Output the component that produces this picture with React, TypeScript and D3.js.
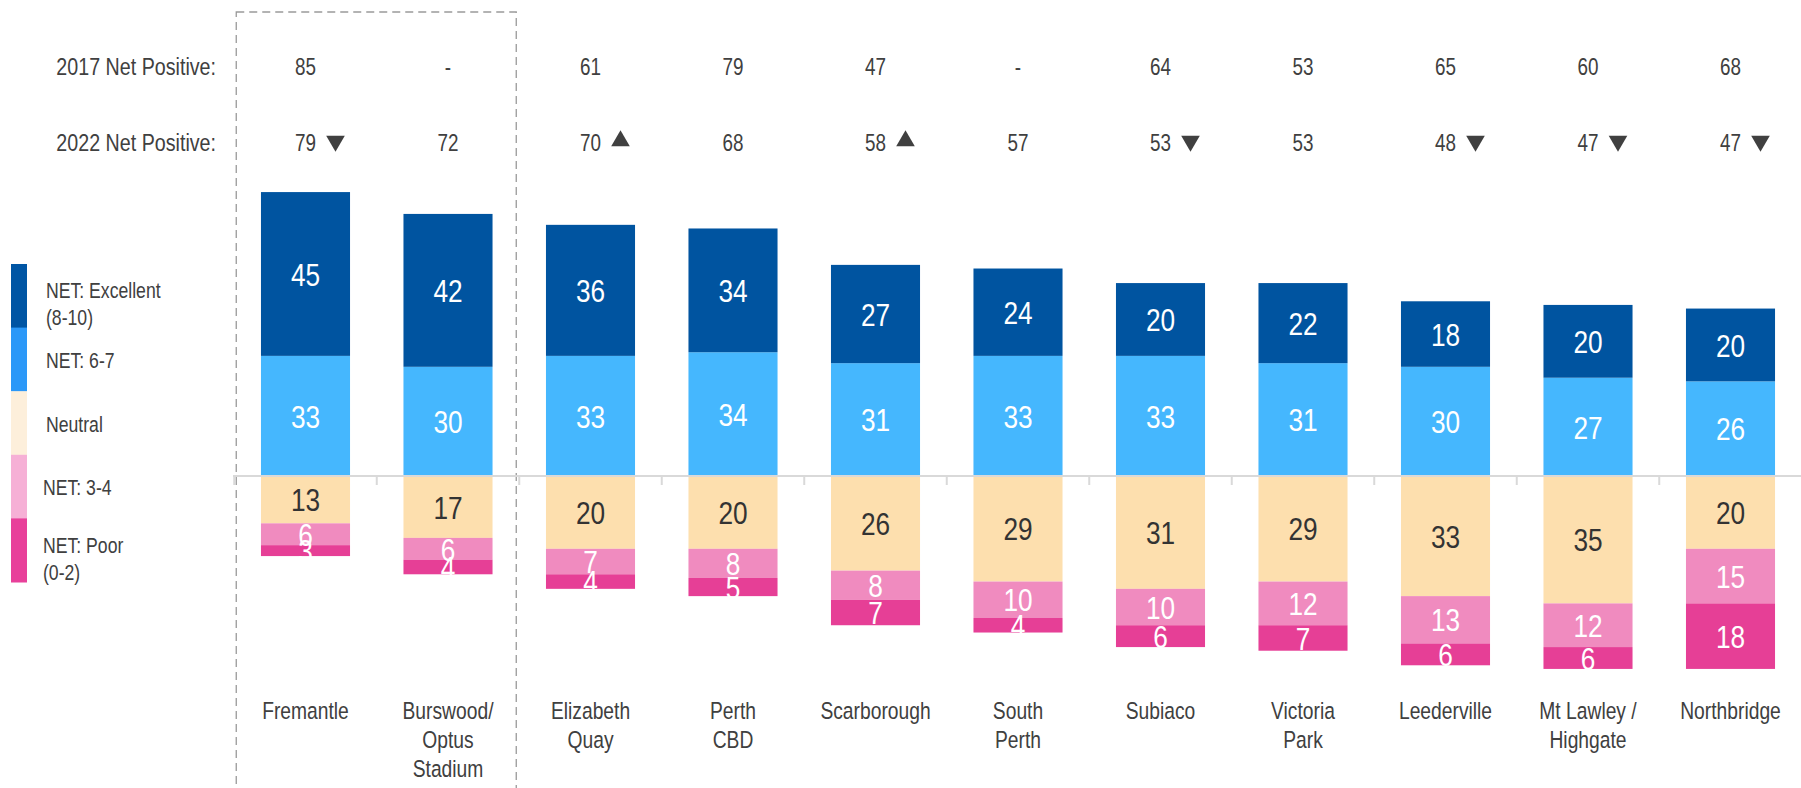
import { useEffect, useRef } from 'react'
import * as d3 from 'd3'

// categories and values
const CATEGORIES = [
  'Fremantle',
  'Burswood/ Optus Stadium',
  'Elizabeth Quay',
  'Perth CBD',
  'Scarborough',
  'South Perth',
  'Subiaco',
  'Victoria Park',
  'Leederville',
  'Mt Lawley / Highgate',
  'Northbridge',
]
const LABEL_LINES = [
  ['Fremantle'],
  ['Burswood/', 'Optus', 'Stadium'],
  ['Elizabeth', 'Quay'],
  ['Perth', 'CBD'],
  ['Scarborough'],
  ['South', 'Perth'],
  ['Subiaco'],
  ['Victoria', 'Park'],
  ['Leederville'],
  ['Mt Lawley /', 'Highgate'],
  ['Northbridge'],
]

const EXCELLENT = [45, 42, 36, 34, 27, 24, 20, 22, 18, 20, 20]
const GOOD = [33, 30, 33, 34, 31, 33, 33, 31, 30, 27, 26]
const NEUTRAL = [13, 17, 20, 20, 26, 29, 31, 29, 33, 35, 20]
const FAIR = [6, 6, 7, 8, 8, 10, 10, 12, 13, 12, 15]
const POOR = [3, 4, 4, 5, 7, 4, 6, 7, 6, 6, 18]

const NET_2017 = ['85', '-', '61', '79', '47', '-', '64', '53', '65', '60', '68']
const NET_2022 = ['79', '72', '70', '68', '58', '57', '53', '53', '48', '47', '47']
const TREND = ['down', '', 'up', '', 'up', '', 'down', '', 'down', 'down', 'down']

const LEGEND = [
  { lines: ['NET: Excellent', '(8-10)'], color: '#0055A4' },
  { lines: ['NET: 6-7'], color: '#2B98F8' },
  { lines: ['Neutral'], color: '#FDEFDB' },
  { lines: ['NET: 3-4'], color: '#F6B0D6' },
  { lines: ['NET: Poor', '(0-2)'], color: '#E8409A' },
]

const BAR_COLORS = {
  excellent: '#0054A0',
  good: '#45B7FE',
  neutral: '#FDDFAE',
  fair: '#F08BBF',
  poor: '#E63F96',
}

// no Arial Narrow here, so squeeze Liberation Sans horizontally
const FONT = '"Liberation Sans", Arial, sans-serif'
const NARROW = 0.82
const TEXT = '#404040'

const W = 1801
const H = 788

type Sel = d3.Selection<any, any, any, any>

// narrow text, one or more lines, anchored at (x, y)
function narrowText(
  parent: Sel,
  x: number,
  y: number,
  lines: string[],
  opts: { size: number; anchor?: string; fill?: string; lineHeight?: number }
) {
  const g = parent.append('g').attr('transform', `translate(${x},${y}) scale(${NARROW},1)`)
  const t = g
    .append('text')
    .attr('text-anchor', opts.anchor || 'middle')
    .attr('font-family', FONT)
    .attr('font-size', opts.size)
    .attr('fill', opts.fill || TEXT)
  lines.forEach((line, j) => {
    t.append('tspan')
      .attr('x', 0)
      .attr('dy', j === 0 ? '0.35em' : opts.lineHeight || 28)
      .text(line)
  })
  return g
}

function App() {
  const svgRef = useRef<SVGSVGElement>(null)

  useEffect(() => {
    if (!svgRef.current) return
    const svg = d3.select(svgRef.current)
    svg.selectAll('*').remove()

    const x = d3
      .scaleBand()
      .domain(CATEGORIES)
      .range([234.25, 1801.75])
      .paddingInner(0.375)
      .paddingOuter(0.1875)
    const step = x.step()
    const cx = (c: string) => (x(c) as number) + x.bandwidth() / 2

    const y = d3.scaleLinear().domain([-55, 80]).range([676.2, 184.8])

    // dashed highlight box round the first two columns
    const boxLeft = (x(CATEGORIES[0]) as number) - step * 0.1875 + 2
    const boxRight = (x(CATEGORIES[1]) as number) + x.bandwidth() + step * 0.1875 - 3
    svg
      .append('rect')
      .attr('x', boxLeft)
      .attr('y', 12)
      .attr('width', boxRight - boxLeft)
      .attr('height', H + 20)
      .attr('fill', 'none')
      .attr('stroke', '#9a9a9a')
      .attr('stroke-width', 1.3)
      .attr('stroke-dasharray', '8,5')

    // header rows
    const rows = [
      { label: '2017 Net Positive:', values: NET_2017, y: 67 },
      { label: '2022 Net Positive:', values: NET_2022, y: 143 },
    ]
    rows.forEach(row => {
      narrowText(svg, 216, row.y, [row.label], { size: 24, anchor: 'end' })
      CATEGORIES.forEach((c, i) => {
        narrowText(svg, cx(c), row.y, [row.values[i]], { size: 23 })
      })
    })

    // trend arrows
    const tri = d3.symbol(d3.symbolTriangle).size(150)
    svg
      .selectAll('path.trend')
      .data(CATEGORIES.filter((c, i) => TREND[i]))
      .enter()
      .append('path')
      .attr('class', 'trend')
      .attr('d', tri)
      .attr('fill', TEXT)
      .attr('transform', d => {
        const i = CATEGORIES.indexOf(d)
        const rot = TREND[i] === 'down' ? 180 : 0
        return `translate(${cx(d) + 30},${141}) rotate(${rot})`
      })

    // stacked segments
    const segments: { cat: string; key: string; y0: number; y1: number; v: number }[] = []
    CATEGORIES.forEach((c, i) => {
      segments.push({ cat: c, key: 'good', y0: 0, y1: GOOD[i], v: GOOD[i] })
      segments.push({ cat: c, key: 'excellent', y0: GOOD[i], y1: GOOD[i] + EXCELLENT[i], v: EXCELLENT[i] })
      segments.push({ cat: c, key: 'neutral', y0: 0, y1: -NEUTRAL[i], v: NEUTRAL[i] })
      segments.push({ cat: c, key: 'fair', y0: -NEUTRAL[i], y1: -NEUTRAL[i] - FAIR[i], v: FAIR[i] })
      segments.push({
        cat: c,
        key: 'poor',
        y0: -NEUTRAL[i] - FAIR[i],
        y1: -NEUTRAL[i] - FAIR[i] - POOR[i],
        v: POOR[i],
      })
    })

    svg
      .selectAll('rect.seg')
      .data(segments)
      .enter()
      .append('rect')
      .attr('class', 'seg')
      .attr('x', d => x(d.cat) as number)
      .attr('width', x.bandwidth())
      .attr('y', d => Math.min(y(d.y0), y(d.y1)))
      .attr('height', d => Math.abs(y(d.y0) - y(d.y1)))
      .attr('fill', d => BAR_COLORS[d.key as keyof typeof BAR_COLORS])

    // zero line with ticks between columns
    const axis = svg.append('g')
    axis
      .append('line')
      .attr('x1', 233)
      .attr('x2', W)
      .attr('y1', y(0))
      .attr('y2', y(0))
      .attr('stroke', '#d9d9d9')
      .attr('stroke-width', 2)
    const tickXs = d3.range(CATEGORIES.length).map(i => (x(CATEGORIES[i]) as number) - step * 0.1875)
    axis
      .selectAll('line.tick')
      .data(tickXs)
      .enter()
      .append('line')
      .attr('class', 'tick')
      .attr('x1', d => d)
      .attr('x2', d => d)
      .attr('y1', y(0))
      .attr('y2', y(0) + 9)
      .attr('stroke', '#d9d9d9')
      .attr('stroke-width', 2)

    // value labels
    segments.forEach(d => {
      narrowText(svg, cx(d.cat), y((d.y0 + d.y1) / 2) + 0.5, [String(d.v)], {
        size: 32,
        fill: d.key === 'neutral' ? '#333333' : '#ffffff',
      })
    })

    // category labels
    CATEGORIES.forEach((c, i) => {
      narrowText(svg, cx(c), 711, LABEL_LINES[i], { size: 23.5, lineHeight: 29 })
    })

    // legend
    const legY = d3.scaleBand().domain(LEGEND.map(d => d.lines[0])).range([264, 582])
    const leg = svg.append('g')
    LEGEND.forEach((item, k) => {
      const top = legY(item.lines[0]) as number
      const mid = top + legY.bandwidth() / 2
      leg
        .append('rect')
        .attr('x', 11)
        .attr('y', top)
        .attr('width', 16)
        .attr('height', legY.bandwidth() + 0.5)
        .attr('fill', item.color)
      narrowText(leg, k < 3 ? 46 : 43, item.lines.length > 1 ? mid - 5 : mid + 1, item.lines, {
        size: 21.5,
        anchor: 'start',
        lineHeight: 27,
      })
    })
  }, [])

  return (
    <svg
      ref={svgRef}
      width={W}
      height={H}
      style={{ position: 'absolute', left: 0, top: 0, background: '#fff' }}
    />
  )
}

export default App
